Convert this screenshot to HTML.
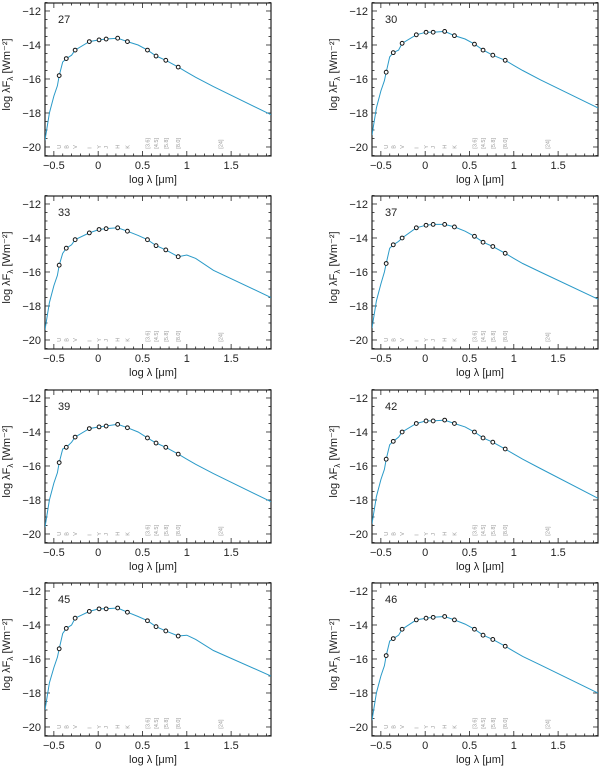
<!DOCTYPE html>
<html><head><meta charset="utf-8"><style>
body{margin:0;background:#fff;}
svg{display:block;font-family:"Liberation Sans",sans-serif;}
</style></head><body>
<svg id="c" width="600" height="766" viewBox="0 0 600 766"></svg>
<script>
const panelIds = ["27","30","33","37","39","42","45","46"];
const lam = [-0.6,-0.55,-0.5,-0.46,-0.44,-0.4,-0.36,-0.3,-0.26,-0.1,0.01,0.09,0.22,0.33,0.45,0.556,0.653,0.763,0.903,1.0,1.1,1.3,1.95];
const markerIdx = [4,6,8,9,10,11,12,13,15,16,17,18];
const flux27 = [-19.6,-18.0,-17.0,-16.4,-15.8,-15.0,-14.8,-14.6,-14.3,-13.8,-13.7,-13.65,-13.6,-13.8,-14.0,-14.3,-14.65,-14.9,-15.3,-15.6,-15.9,-16.45,-18.1];
const flux30 = [-19.3,-17.7,-16.7,-16.1,-15.6,-14.7,-14.45,-14.3,-13.9,-13.4,-13.25,-13.25,-13.2,-13.45,-13.65,-13.95,-14.3,-14.6,-14.9,-15.2,-15.5,-16.05,-17.7];
const flux33 = [-19.4,-17.8,-16.8,-16.2,-15.6,-14.9,-14.6,-14.4,-14.1,-13.7,-13.5,-13.45,-13.4,-13.6,-13.85,-14.1,-14.45,-14.7,-15.1,-15.0,-15.2,-15.9,-17.5];
const flux37 = [-19.3,-17.7,-16.7,-16.0,-15.5,-14.6,-14.4,-14.2,-14.0,-13.4,-13.25,-13.2,-13.2,-13.35,-13.6,-13.9,-14.25,-14.5,-14.9,-15.2,-15.5,-16.0,-17.6];
const flux39 = [-19.6,-18.0,-17.0,-16.4,-15.8,-15.0,-14.9,-14.6,-14.3,-13.8,-13.7,-13.65,-13.55,-13.75,-14.0,-14.35,-14.65,-14.9,-15.3,-15.6,-15.9,-16.45,-18.1];
const flux42 = [-19.4,-17.8,-16.8,-16.2,-15.6,-14.75,-14.55,-14.3,-14.0,-13.5,-13.35,-13.35,-13.3,-13.5,-13.7,-14.0,-14.35,-14.6,-15.0,-15.3,-15.6,-16.15,-17.9];
const flux45 = [-19.0,-17.4,-16.5,-15.9,-15.4,-14.5,-14.2,-14.0,-13.6,-13.2,-13.05,-13.05,-13.0,-13.25,-13.5,-13.75,-14.1,-14.35,-14.65,-14.6,-14.85,-15.5,-17.0];
const flux46 = [-19.6,-18.0,-17.0,-16.4,-15.8,-14.95,-14.8,-14.6,-14.25,-13.7,-13.6,-13.55,-13.5,-13.7,-13.95,-14.25,-14.6,-14.85,-15.25,-15.55,-15.85,-16.35,-18.0];
const fluxes = [flux27,flux30,flux33,flux37,flux39,flux42,flux45,flux46];
const xTicks = [-0.5,0,0.5,1,1.5];
const xTickLabels = ["\u22120.5","0","0.5","1","1.5"];
const yTicks = [-12,-14,-16,-18,-20];
const yTickLabels = ["\u221212","\u221214","\u221216","\u221218","\u221220"];
const bandNames = ["U","B","V","I","Y","J","H","K"];
const bandLam = [-0.44,-0.36,-0.26,-0.1,0.01,0.09,0.22,0.33];
const irNames = ["[3.6]","[4.5]","[5.8]","[8.0]","[24]"];
const irLam = [0.556,0.653,0.763,0.903,1.38];

const NS="http://www.w3.org/2000/svg";
const svg=document.getElementById('c');
function mk(tag,attrs,parent){const e=document.createElementNS(NS,tag);for(const k in attrs)e.setAttribute(k,attrs[k]);(parent||svg).appendChild(e);return e;}
const XMIN=-0.6,XMAX=1.95,YMAX=-11.53,YMIN=-20.53,W=226,H=153;
const lefts=[45,372], tops=[3,196,390,583];

panelIds.forEach((id,i)=>{
  const L=lefts[i%2],T=tops[Math.floor(i/2)];
  const sx=v=>L+(v-XMIN)/(XMAX-XMIN)*W;
  const sy=v=>T+(YMAX-v)/(YMAX-YMIN)*H;
  const g=mk('g',{});
  
  
  const fr=mk('rect',{x:L,y:T,width:W,height:H,fill:'none',stroke:'#222','stroke-width':1.2},g);
  
  
  for(let v=-0.6;v<=1.95;v+=0.1){const x=sx(v);const maj=Math.abs(v*2-Math.round(v*2))<1e-6;const len=maj?5:2.5;
    mk('line',{x1:x,x2:x,y1:T+H,y2:T+H-len,stroke:'#222','stroke-width':0.8},g);
    mk('line',{x1:x,x2:x,y1:T,y2:T+len,stroke:'#222','stroke-width':0.8},g);}
  for(let v=-20.5;v<=-11.5;v+=0.5){const y=sy(v);const maj=Math.abs(v/2-Math.round(v/2))<1e-6;const len=maj?5:2.5;
    mk('line',{x1:L,x2:L+len,y1:y,y2:y,stroke:'#222','stroke-width':0.8},g);
    mk('line',{x1:L+W,x2:L+W-len,y1:y,y2:y,stroke:'#222','stroke-width':0.8},g);}
  xTicks.forEach((v,k)=>{const t=mk('text',{x:sx(v),y:T+H+13,'font-size':11,'text-anchor':'middle',fill:'#222'},g);t.textContent=xTickLabels[k];
    
    });
  yTicks.forEach((v,k)=>{const t=mk('text',{x:L-4,y:sy(v)+4,'font-size':11,'text-anchor':'end',fill:'#222'},g);t.textContent=yTickLabels[k];
    
    });
  const xt=mk('text',{x:L+W/2-5,y:T+H+27,'font-size':11,'text-anchor':'middle',fill:'#222'},g);
  xt.textContent='log \u03bb [\u03bcm]';
  
  
  const yt=mk('text',{x:0,y:0,'font-size':11,'text-anchor':'middle',fill:'#222',transform:`translate(${L-35},${T+H/2-5}) rotate(-90)`},g);
  yt.innerHTML='log \u03bbF<tspan font-size="8" dy="3">\u03bb</tspan><tspan dy="-3"> [Wm\u207b\u00b2]</tspan>';
  
  
  const lb=mk('text',{x:L+13,y:T+20,'font-size':11,fill:'#222'},g);
  lb.textContent=id;
  
  
  bandNames.forEach((n,k)=>{const t=mk('text',{x:0,y:0,'font-size':5.5,fill:'#999','text-anchor':'start',transform:`translate(${sx(bandLam[k])+2},${sy(-20.1)}) rotate(-90)`},g);t.textContent=n;
    
    });
  irNames.forEach((n,k)=>{const t=mk('text',{x:0,y:0,'font-size':5.5,fill:'#999','text-anchor':'start',transform:`translate(${sx(irLam[k])+2},${sy(-20.1)}) rotate(-90)`},g);t.textContent=n;
    
    });
  const f=fluxes[i];
  const d=lam.map((v,k)=>(k?'L':'M')+sx(v).toFixed(1)+','+sy(f[k]).toFixed(1)).join(' ');
  const cp=mk('clipPath',{id:'cl'+i},g);mk('rect',{x:L,y:T,width:W,height:H},cp);
  const p=mk('path',{d:d,fill:'none',stroke:'#2a9ac8','stroke-width':1,'clip-path':`url(#cl${i})`},g);
  
  
  markerIdx.forEach(k=>{const c=mk('circle',{cx:sx(lam[k]),cy:sy(f[k]),r:1.9,fill:'#fff',stroke:'#111','stroke-width':1},g);
    
    });
});
</script>
</body></html>
